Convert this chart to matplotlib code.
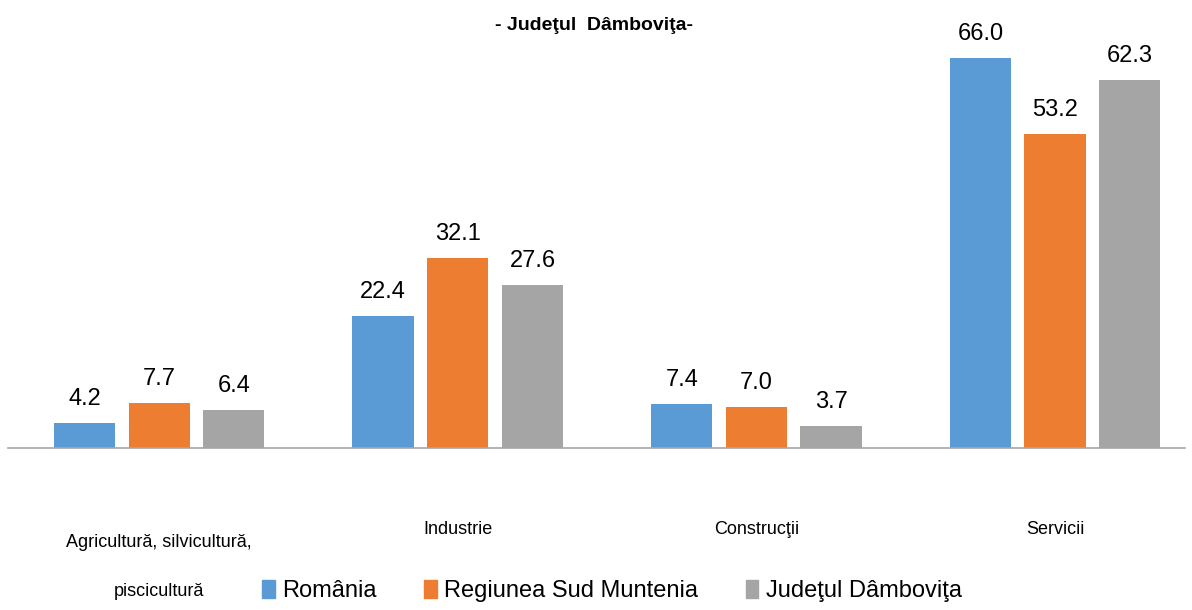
import matplotlib
matplotlib.use('Agg')
import matplotlib.pyplot as plt
from matplotlib.patches import Patch
from matplotlib.transforms import blended_transform_factory
import numpy as np

plt.rcParams['font.family'] = ['Liberation Sans', 'DejaVu Sans']

categories = ['Agricultură, silvicultură,\n\n\npiscicultură', 'Industrie', 'Construcţii', 'Servicii']
series_names = ['România', 'Regiunea Sud Muntenia', 'Judeţul Dâmboviţa']
romania = [4.2, 22.4, 7.4, 66.0]
sud_muntenia = [7.7, 32.1, 7.0, 53.2]
dambovita = [6.4, 27.6, 3.7, 62.3]
colors = ['#5B9BD5', '#ED7D31', '#A5A5A5']

W, H = 1192, 610
fig = plt.figure(figsize=(W / 100, H / 100), dpi=100)
ax = fig.add_axes([8 / W, 1 - 448 / H, 1177 / W, 443 / H])

x = np.arange(len(categories))
width = 0.205
step = 0.25
for i, (vals, col) in enumerate(zip([romania, sud_muntenia, dambovita], colors)):
    bars = ax.bar(x + (i - 1) * step, vals, width, color=col)
    for b, v in zip(bars, vals):
        ax.text(b.get_x() + b.get_width() / 2, v + 2.2, f"{v:.1f}",
                ha='center', va='bottom', fontsize=17)

ax.set_xlim(-0.506, 3.435)
ax.set_ylim(0, 75)
for s in ['top', 'left', 'right']:
    ax.spines[s].set_visible(False)
ax.spines['bottom'].set_color('#A6A6A6')
ax.spines['bottom'].set_linewidth(1.2)
ax.set_yticks([])
ax.set_xticks([])

trans = blended_transform_factory(ax.transData, fig.transFigure)
for xi, lab in zip(x, categories):
    if '\n' in lab:
        ax.text(xi, 1 - 567 / H, lab, transform=trans, ha='center', va='center',
                fontsize=13, linespacing=0.95)
    else:
        ax.text(xi, 1 - 530 / H, lab, transform=trans, ha='center', va='center', fontsize=13)

fig.text(594 / W, 1 - 25 / H, '- Judeţul  Dâmboviţa-', ha='center', va='center',
         fontsize=14, fontweight='bold')

handles = [Patch(color=c) for c in colors]
fig.legend(handles, series_names, loc='center', bbox_to_anchor=(612 / W, 1 - 591 / H),
           ncol=3, frameon=False, fontsize=17, handlelength=0.55, handleheight=0.8,
           handletextpad=0.3, columnspacing=2.0)

fig.savefig('out.png', dpi=100)
